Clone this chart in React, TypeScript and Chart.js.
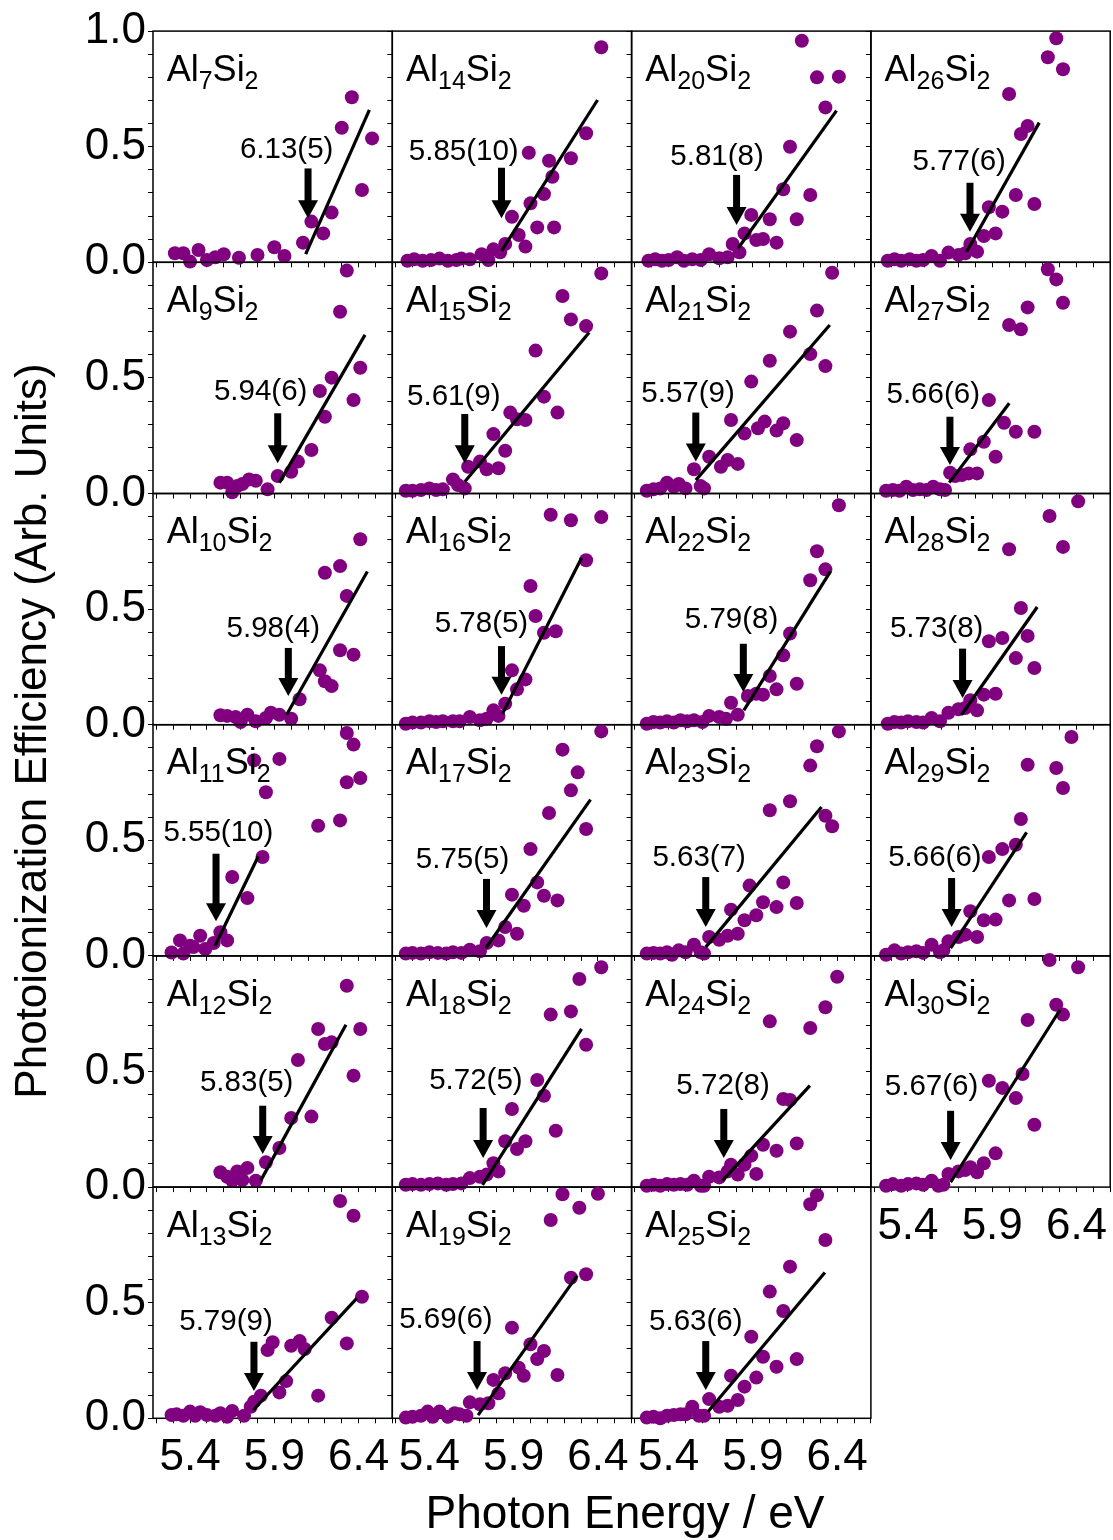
import React, { useEffect, useRef } from 'react';
import { Chart, registerables } from 'chart.js';

Chart.register(...registerables);

const FONT = "'Liberation Sans', Arial, Helvetica, sans-serif";
const PURPLE = '#800080';

// ---------- axes ----------
const X_MIN = 5.18;
const X_MAX = 6.6;
const Y_MIN = 0;
const Y_MAX = 1.0;
const xTicks = [5.2, 5.3, 5.4, 5.5, 5.6, 5.7, 5.8, 5.9, 6.0, 6.1, 6.2, 6.3, 6.4, 6.5, 6.6];
const yTicks = [0, 0.1, 0.2, 0.3, 0.4, 0.5, 0.6, 0.7, 0.8, 0.9, 1.0];
const xTickLabels = [5.4, 5.9, 6.4];
const yTickLabels = [0, 0.5, 1.0];

// ---------- panels (row-major, 4 columns) ----------
const clusterN = [7, 14, 20, 26, 9, 15, 21, 27, 10, 16, 22, 28, 11, 17, 23, 29, 12, 18, 24, 30, 13, 19, 25];
const thresholdText = ['6.13(5)', '5.85(10)', '5.81(8)', '5.77(6)', '5.94(6)', '5.61(9)', '5.57(9)', '5.66(6)', '5.98(4)', '5.78(5)', '5.79(8)', '5.73(8)', '5.55(10)', '5.75(5)', '5.63(7)', '5.66(6)', '5.83(5)', '5.72(5)', '5.72(8)', '5.67(6)', '5.79(9)', '5.69(6)', '5.63(6)'];
const arrowE = [6.10, 5.828, 5.803, 5.768, 5.92, 5.61, 5.561, 5.649, 5.983, 5.828, 5.843, 5.724, 5.554, 5.739, 5.62, 5.659, 5.831, 5.719, 5.727, 5.653, 5.779, 5.683, 5.62];
const arrowTop = [0.406, 0.409, 0.378, 0.344, 0.347, 0.344, 0.35, 0.332, 0.332, 0.34, 0.35, 0.329, 0.442, 0.333, 0.341, 0.337, 0.352, 0.342, 0.338, 0.33, 0.331, 0.334, 0.334];
const arrowTip = [0.19, 0.19, 0.161, 0.132, 0.131, 0.131, 0.138, 0.123, 0.124, 0.13, 0.141, 0.115, 0.15, 0.121, 0.125, 0.125, 0.143, 0.126, 0.126, 0.117, 0.118, 0.122, 0.122];
const labelE = [5.973, 5.604, 5.687, 5.704, 5.819, 5.545, 5.515, 5.55, 5.894, 5.709, 5.773, 5.57, 5.568, 5.597, 5.581, 5.56, 5.736, 5.676, 5.723, 5.54, 5.613, 5.498, 5.561];
const labelY = [0.486, 0.478, 0.457, 0.435, 0.44, 0.419, 0.433, 0.426, 0.413, 0.437, 0.452, 0.415, 0.532, 0.416, 0.423, 0.423, 0.453, 0.46, 0.439, 0.432, 0.418, 0.425, 0.418];
const fitStartE = [6.086, 5.828, 5.812, 5.748, 5.93, 5.61, 5.561, 5.645, 5.973, 5.834, 5.846, 5.718, 5.548, 5.735, 5.62, 5.653, 5.819, 5.715, 5.719, 5.653, 5.775, 5.689, 5.634];
const fitStartY = [0.035, 0.049, 0.061, 0.046, 0.047, 0.051, 0.058, 0.047, 0.043, 0.048, 0.062, 0.043, 0.044, 0.034, 0.038, 0.034, 0.028, 0.01, 0.028, 0.021, 0.036, 0.014, 0.029];
const fitEndE = [6.464, 6.398, 6.396, 6.179, 6.438, 6.348, 6.356, 6.001, 6.452, 6.303, 6.36, 6.167, 5.805, 6.356, 6.307, 6.104, 6.325, 6.303, 6.238, 6.302, 6.389, 6.277, 6.327];
const fitEndY = [0.659, 0.702, 0.656, 0.604, 0.686, 0.696, 0.729, 0.39, 0.663, 0.721, 0.663, 0.509, 0.431, 0.676, 0.644, 0.534, 0.702, 0.684, 0.439, 0.766, 0.519, 0.617, 0.631];

// ---------- measured points: photon energy (eV) and efficiency ----------
const eAl7 = [5.31, 5.36, 5.40, 5.45, 5.50, 5.55, 5.60, 5.69, 5.80, 5.90, 5.96, 6.07, 6.12, 6.19, 6.24, 6.30, 6.36, 6.42, 6.48];
const yAl7 = [0.039, 0.039, 0.003, 0.053, 0.010, 0.022, 0.035, 0.020, 0.032, 0.065, 0.027, 0.085, 0.176, 0.125, 0.215, 0.582, 0.714, 0.313, 0.536];
const eAl14 = [5.27, 5.31, 5.36, 5.41, 5.46, 5.51, 5.56, 5.59, 5.64, 5.71, 5.75, 5.78, 5.82, 5.85, 5.89, 5.93, 5.97, 5.99, 6.00, 6.04, 6.08, 6.11, 6.13, 6.14, 6.24, 6.33, 6.42];
const yAl14 = [0.007, 0.013, 0.007, 0.010, 0.016, 0.007, 0.010, 0.016, 0.013, 0.035, 0.010, 0.056, 0.043, 0.079, 0.197, 0.118, 0.068, 0.474, 0.255, 0.151, 0.295, 0.439, 0.370, 0.151, 0.450, 0.558, 0.930];
const eAl20 = [5.28, 5.32, 5.36, 5.40, 5.45, 5.49, 5.54, 5.59, 5.64, 5.70, 5.75, 5.78, 5.82, 5.85, 5.89, 5.92, 5.96, 6.00, 6.04, 6.08, 6.12, 6.16, 6.19, 6.24, 6.28, 6.33, 6.41];
const yAl20 = [0.007, 0.013, 0.007, 0.010, 0.022, 0.007, 0.013, 0.010, 0.035, 0.017, 0.022, 0.079, 0.043, 0.125, 0.205, 0.096, 0.101, 0.186, 0.085, 0.316, 0.500, 0.186, 0.958, 0.291, 0.800, 0.670, 0.803];
const eAl26 = [5.28, 5.32, 5.36, 5.41, 5.45, 5.49, 5.54, 5.59, 5.64, 5.70, 5.74, 5.77, 5.81, 5.85, 5.88, 5.92, 5.96, 6.00, 6.04, 6.07, 6.11, 6.15, 6.23, 6.28, 6.32];
const yAl26 = [0.007, 0.013, 0.007, 0.013, 0.007, 0.010, 0.027, 0.007, 0.042, 0.032, 0.039, 0.079, 0.046, 0.114, 0.238, 0.125, 0.219, 0.728, 0.291, 0.555, 0.590, 0.252, 0.887, 0.969, 0.835];
const eAl9 = [5.58, 5.62, 5.65, 5.68, 5.71, 5.75, 5.79, 5.86, 5.92, 6.00, 6.04, 6.12, 6.20, 6.17, 6.24, 6.29, 6.33, 6.37, 6.41];
const yAl9 = [0.047, 0.047, 0.005, 0.032, 0.041, 0.061, 0.055, 0.018, 0.076, 0.094, 0.138, 0.188, 0.332, 0.443, 0.501, 0.786, 0.964, 0.404, 0.544];
const eAl15 = [5.26, 5.30, 5.35, 5.40, 5.44, 5.48, 5.54, 5.57, 5.61, 5.63, 5.70, 5.74, 5.78, 5.81, 5.85, 5.88, 5.92, 5.97, 6.03, 6.08, 6.16, 6.19, 6.24, 6.33, 6.42];
const yAl15 = [0.012, 0.012, 0.015, 0.022, 0.015, 0.018, 0.061, 0.037, 0.022, 0.116, 0.138, 0.105, 0.257, 0.109, 0.185, 0.350, 0.321, 0.318, 0.618, 0.419, 0.350, 0.854, 0.753, 0.724, 0.952];
const eAl21 = [5.27, 5.31, 5.35, 5.39, 5.43, 5.46, 5.50, 5.55, 5.59, 5.61, 5.64, 5.71, 5.75, 5.81, 5.77, 5.85, 5.89, 5.93, 5.97, 6.00, 6.04, 6.08, 6.12, 6.16, 6.24, 6.28, 6.33, 6.37];
const yAl21 = [0.012, 0.018, 0.022, 0.047, 0.029, 0.041, 0.022, 0.105, 0.032, 0.022, 0.159, 0.116, 0.145, 0.128, 0.318, 0.260, 0.484, 0.282, 0.311, 0.574, 0.272, 0.304, 0.700, 0.231, 0.603, 0.791, 0.551, 0.955];
const eAl27 = [5.27, 5.31, 5.35, 5.39, 5.43, 5.47, 5.51, 5.55, 5.59, 5.62, 5.65, 5.68, 5.72, 5.76, 5.81, 5.77, 5.85, 5.88, 5.92, 5.97, 6.00, 6.04, 6.07, 6.11, 6.15, 6.23, 6.28, 6.32];
const yAl27 = [0.012, 0.015, 0.012, 0.029, 0.015, 0.018, 0.015, 0.029, 0.018, 0.015, 0.090, 0.076, 0.080, 0.087, 0.087, 0.191, 0.224, 0.404, 0.159, 0.306, 0.729, 0.267, 0.710, 0.805, 0.267, 0.970, 0.926, 0.825];
const eAl10 = [5.58, 5.62, 5.67, 5.70, 5.74, 5.79, 5.85, 5.88, 5.93, 6.00, 6.05, 6.17, 6.20, 6.24, 6.20, 6.29, 6.29, 6.33, 6.37, 6.41];
const yAl10 = [0.041, 0.038, 0.033, 0.012, 0.043, 0.015, 0.029, 0.052, 0.043, 0.026, 0.110, 0.235, 0.188, 0.167, 0.657, 0.686, 0.322, 0.557, 0.303, 0.802];
const eAl16 = [5.26, 5.30, 5.35, 5.40, 5.44, 5.48, 5.54, 5.58, 5.64, 5.70, 5.74, 5.78, 5.81, 5.85, 5.89, 5.92, 5.97, 6.00, 6.03, 6.08, 6.12, 6.15, 6.24, 6.33, 6.42];
const yAl16 = [0.004, 0.009, 0.009, 0.015, 0.012, 0.015, 0.015, 0.015, 0.033, 0.019, 0.026, 0.062, 0.038, 0.091, 0.235, 0.153, 0.196, 0.600, 0.470, 0.398, 0.908, 0.404, 0.884, 0.711, 0.898];
const eAl22 = [5.27, 5.31, 5.35, 5.39, 5.43, 5.47, 5.51, 5.55, 5.60, 5.64, 5.70, 5.74, 5.77, 5.81, 5.87, 5.92, 5.96, 6.00, 6.04, 6.08, 6.12, 6.16, 6.24, 6.28, 6.33, 6.41];
const yAl22 = [0.004, 0.012, 0.009, 0.015, 0.009, 0.019, 0.015, 0.019, 0.012, 0.038, 0.033, 0.026, 0.095, 0.043, 0.124, 0.134, 0.130, 0.211, 0.153, 0.300, 0.394, 0.177, 0.625, 0.750, 0.672, 0.949];
const eAl28 = [5.28, 5.32, 5.36, 5.40, 5.45, 5.49, 5.54, 5.59, 5.64, 5.70, 5.74, 5.77, 5.81, 5.85, 5.88, 5.92, 5.96, 6.00, 6.04, 6.07, 6.11, 6.15, 6.24, 6.32, 6.41];
const yAl28 = [0.004, 0.012, 0.009, 0.015, 0.012, 0.009, 0.029, 0.015, 0.052, 0.067, 0.072, 0.106, 0.062, 0.130, 0.361, 0.134, 0.375, 0.759, 0.288, 0.505, 0.384, 0.245, 0.903, 0.769, 0.966];
const eAl11 = [5.29, 5.34, 5.36, 5.40, 5.42, 5.46, 5.49, 5.54, 5.58, 5.62, 5.65, 5.74, 5.78, 5.83, 5.85, 5.93, 6.16, 6.29, 6.33, 6.33, 6.37, 6.41];
const yAl11 = [0.015, 0.067, 0.010, 0.044, 0.038, 0.087, 0.030, 0.056, 0.102, 0.067, 0.341, 0.250, 0.846, 0.428, 0.708, 0.852, 0.563, 0.586, 0.964, 0.751, 0.914, 0.769];
const eAl17 = [5.26, 5.30, 5.35, 5.40, 5.45, 5.50, 5.54, 5.59, 5.64, 5.70, 5.74, 5.81, 5.85, 5.89, 5.92, 5.96, 6.00, 6.04, 6.08, 6.11, 6.16, 6.19, 6.24, 6.28, 6.33, 6.42];
const yAl17 = [0.010, 0.013, 0.010, 0.016, 0.013, 0.010, 0.016, 0.013, 0.027, 0.020, 0.056, 0.067, 0.125, 0.265, 0.096, 0.217, 0.462, 0.318, 0.260, 0.618, 0.240, 0.892, 0.716, 0.794, 0.549, 0.971];
const eAl23 = [5.27, 5.31, 5.35, 5.39, 5.42, 5.46, 5.50, 5.55, 5.59, 5.61, 5.64, 5.70, 5.75, 5.77, 5.81, 5.85, 5.88, 5.92, 5.96, 6.00, 6.04, 6.08, 6.12, 6.16, 6.24, 6.28, 6.33, 6.37, 6.41];
const yAl23 = [0.010, 0.013, 0.010, 0.016, 0.005, 0.024, 0.016, 0.048, 0.016, 0.010, 0.082, 0.070, 0.087, 0.200, 0.096, 0.154, 0.304, 0.176, 0.232, 0.630, 0.211, 0.318, 0.669, 0.229, 0.823, 0.907, 0.606, 0.561, 0.971];
const eAl29 = [5.27, 5.32, 5.36, 5.40, 5.45, 5.49, 5.54, 5.59, 5.61, 5.64, 5.70, 5.74, 5.77, 5.81, 5.85, 5.88, 5.92, 5.96, 6.00, 6.04, 6.07, 6.11, 6.15, 6.28, 6.32, 6.37];
const yAl29 = [0.005, 0.024, 0.010, 0.016, 0.020, 0.013, 0.048, 0.016, 0.024, 0.063, 0.082, 0.092, 0.193, 0.082, 0.154, 0.428, 0.157, 0.462, 0.240, 0.481, 0.592, 0.827, 0.246, 0.813, 0.726, 0.947];
const eAl12 = [5.58, 5.62, 5.65, 5.68, 5.71, 5.74, 5.79, 5.85, 5.93, 6.00, 6.04, 6.12, 6.16, 6.20, 6.24, 6.33, 6.37, 6.41];
const yAl12 = [0.064, 0.045, 0.028, 0.068, 0.031, 0.083, 0.028, 0.107, 0.169, 0.299, 0.550, 0.305, 0.684, 0.619, 0.626, 0.871, 0.482, 0.684];
const eAl18 = [5.26, 5.30, 5.35, 5.40, 5.45, 5.50, 5.54, 5.59, 5.64, 5.70, 5.74, 5.78, 5.81, 5.85, 5.89, 5.92, 5.97, 6.04, 6.08, 6.12, 6.15, 6.24, 6.29, 6.33, 6.42];
const yAl18 = [0.010, 0.013, 0.010, 0.013, 0.016, 0.010, 0.013, 0.016, 0.039, 0.045, 0.054, 0.103, 0.068, 0.198, 0.338, 0.165, 0.198, 0.463, 0.395, 0.746, 0.244, 0.760, 0.900, 0.616, 0.951];
const eAl24 = [5.27, 5.31, 5.35, 5.39, 5.43, 5.47, 5.51, 5.55, 5.59, 5.61, 5.64, 5.70, 5.75, 5.77, 5.81, 5.85, 5.89, 5.92, 5.96, 6.00, 6.04, 6.08, 6.12, 6.16, 6.24, 6.33, 6.40];
const yAl24 = [0.006, 0.010, 0.006, 0.013, 0.010, 0.013, 0.010, 0.028, 0.006, 0.006, 0.045, 0.042, 0.068, 0.097, 0.054, 0.097, 0.136, 0.057, 0.183, 0.717, 0.157, 0.381, 0.377, 0.189, 0.688, 0.778, 0.910];
const eAl30 = [5.27, 5.31, 5.36, 5.40, 5.45, 5.49, 5.54, 5.58, 5.61, 5.64, 5.70, 5.74, 5.77, 5.81, 5.85, 5.88, 5.92, 5.96, 6.04, 6.08, 6.11, 6.15, 6.24, 6.28, 6.32, 6.41];
const yAl30 = [0.006, 0.013, 0.006, 0.013, 0.016, 0.010, 0.028, 0.006, 0.010, 0.057, 0.068, 0.074, 0.086, 0.064, 0.103, 0.460, 0.146, 0.429, 0.385, 0.489, 0.723, 0.270, 0.982, 0.789, 0.746, 0.951];
const eAl13 = [5.29, 5.32, 5.36, 5.40, 5.43, 5.46, 5.50, 5.55, 5.58, 5.62, 5.65, 5.72, 5.76, 5.78, 5.82, 5.86, 5.89, 5.93, 5.97, 6.00, 6.05, 6.08, 6.16, 6.24, 6.29, 6.33, 6.37, 6.42];
const yAl13 = [0.014, 0.017, 0.011, 0.029, 0.011, 0.026, 0.014, 0.011, 0.022, 0.007, 0.032, 0.011, 0.050, 0.072, 0.098, 0.295, 0.329, 0.112, 0.161, 0.314, 0.334, 0.300, 0.098, 0.435, 0.940, 0.324, 0.876, 0.526];
const eAl19 = [5.26, 5.30, 5.35, 5.39, 5.42, 5.46, 5.51, 5.55, 5.58, 5.62, 5.64, 5.70, 5.75, 5.78, 5.81, 5.85, 5.89, 5.93, 5.96, 6.00, 6.04, 6.08, 6.12, 6.16, 6.19, 6.24, 6.29, 6.33, 6.40];
const yAl19 = [0.003, 0.007, 0.011, 0.029, 0.007, 0.029, 0.007, 0.022, 0.017, 0.011, 0.069, 0.061, 0.065, 0.166, 0.108, 0.195, 0.392, 0.219, 0.184, 0.320, 0.256, 0.291, 0.858, 0.187, 0.969, 0.608, 0.911, 0.623, 0.971];
const eAl25 = [5.27, 5.31, 5.35, 5.39, 5.43, 5.47, 5.50, 5.54, 5.58, 5.61, 5.64, 5.70, 5.75, 5.77, 5.81, 5.85, 5.89, 5.92, 5.96, 6.00, 6.04, 6.08, 6.12, 6.16, 6.24, 6.28, 6.33];
const yAl25 = [0.003, 0.007, 0.000, 0.011, 0.014, 0.017, 0.017, 0.050, 0.011, 0.011, 0.083, 0.050, 0.054, 0.184, 0.079, 0.137, 0.353, 0.176, 0.266, 0.548, 0.223, 0.464, 0.656, 0.256, 0.926, 0.965, 0.771];

const energies = [eAl7, eAl14, eAl20, eAl26, eAl9, eAl15, eAl21, eAl27, eAl10, eAl16, eAl22, eAl28, eAl11, eAl17, eAl23, eAl29, eAl12, eAl18, eAl24, eAl30, eAl13, eAl19, eAl25];
const efficiencies = [yAl7, yAl14, yAl20, yAl26, yAl9, yAl15, yAl21, yAl27, yAl10, yAl16, yAl22, yAl28, yAl11, yAl17, yAl23, yAl29, yAl12, yAl18, yAl24, yAl30, yAl13, yAl19, yAl25];

// ---------- layout ----------
const COLS = 4;
const PANEL_LEFT = 153;
const PANEL_TOP = 31.1;
const PANEL_W = 239.3;
const PANEL_H = 231.2;
const ML = 100;
const MT = 30;
const MR = 20;
const MB = 70;

const near = (v: number, list: number[]) => list.some((t) => Math.abs(t - v) < 1e-6);

function Panel({ i }: { i: number }) {
  const ref = useRef<HTMLCanvasElement | null>(null);
  const r = Math.floor(i / COLS);
  const c = i % COLS;
  const pl = PANEL_LEFT + c * PANEL_W;
  const pt = PANEL_TOP + r * PANEL_H;
  const cl = Math.floor(pl) - ML;
  const ct = Math.floor(pt) - MT;
  const cw = ML + Math.ceil(PANEL_W) + MR;
  const ch = MT + Math.ceil(PANEL_H) + MB;
  const showX = r === 5 || (r === 4 && c === 3);
  const showY = c === 0;

  useEffect(() => {
    const canvas = ref.current;
    if (!canvas) return;
    const axisW = pl - cl;
    const padTop = pt - ct;
    const padRight = cw - axisW - PANEL_W;
    const axisH = ch - padTop - PANEL_H;

    const panelPlugin = {
      id: 'panelDeco',
      beforeDatasetsDraw(chart: any) {
        const { ctx, chartArea: a } = chart;
        ctx.save();
        ctx.strokeStyle = '#000';
        ctx.lineWidth = 1.5;
        ctx.strokeRect(a.left, a.top, a.right - a.left, a.bottom - a.top);
        ctx.restore();
      },
      afterDatasetsDraw(chart: any) {
        const { ctx, chartArea: a } = chart;
        const xs = chart.scales.x;
        const ys = chart.scales.y;
        ctx.save();
        ctx.fillStyle = '#000';
        // formula label Al_n Si_2
        ctx.textAlign = 'left';
        ctx.textBaseline = 'alphabetic';
        let x = a.left + 13.7;
        const base = a.top + 49.6;
        const big = `36px ${FONT}`;
        const small = `25px ${FONT}`;
        ctx.font = big;
        ctx.fillText('Al', x, base);
        x += ctx.measureText('Al').width;
        ctx.font = small;
        ctx.fillText(String(clusterN[i]), x, base + 8);
        x += ctx.measureText(String(clusterN[i])).width;
        ctx.font = big;
        ctx.fillText('Si', x, base);
        x += ctx.measureText('Si').width;
        ctx.font = small;
        ctx.fillText('2', x, base + 8);
        // threshold label
        ctx.font = `29.5px ${FONT}`;
        ctx.textAlign = 'center';
        ctx.textBaseline = 'middle';
        ctx.fillText(thresholdText[i], xs.getPixelForValue(labelE[i]), ys.getPixelForValue(labelY[i]));
        // arrow
        const ax = xs.getPixelForValue(arrowE[i]);
        const y0 = ys.getPixelForValue(arrowTop[i]);
        const y1 = ys.getPixelForValue(arrowTip[i]);
        const headH = 18;
        const headW = 20;
        const shaftW = 7;
        ctx.fillRect(ax - shaftW / 2, y0, shaftW, y1 - headH - y0 + 1);
        ctx.beginPath();
        ctx.moveTo(ax - headW / 2, y1 - headH);
        ctx.lineTo(ax + headW / 2, y1 - headH);
        ctx.lineTo(ax, y1);
        ctx.closePath();
        ctx.fill();
        ctx.restore();
      },
    };

    const chart = new Chart(canvas, {
      type: 'scatter',
      data: {
        datasets: [
          {
            data: [
              { x: fitStartE[i], y: fitStartY[i] },
              { x: fitEndE[i], y: fitEndY[i] },
            ],
            showLine: true,
            borderColor: '#000',
            borderWidth: 3.2,
            pointRadius: 0,
            clip: false as any,
          },
          {
            data: energies[i].map((e, k) => ({ x: e, y: efficiencies[i][k] })),
            pointRadius: 7,
            backgroundColor: PURPLE,
            borderWidth: 0,
            clip: false as any,
          },
        ],
      },
      options: {
        responsive: false,
        animation: false,
        events: [],
        layout: { padding: { left: 0, top: padTop, right: padRight, bottom: 0 } },
        plugins: { legend: { display: false }, tooltip: { enabled: false } },
        scales: {
          x: {
            type: 'linear',
            min: X_MIN,
            max: X_MAX,
            afterBuildTicks: (s: any) => {
              s.ticks = xTicks.map((value) => ({ value }));
            },
            afterFit: (s: any) => {
              s.height = axisH;
            },
            ticks: {
              display: showX,
              autoSkip: false,
              maxRotation: 0,
              minRotation: 0,
              padding: 8,
              color: '#000',
              font: { family: FONT, size: 44 },
              callback: (v: any) => (near(Number(v), xTickLabels) ? Number(v).toFixed(1) : ''),
            },
            grid: { display: true, drawOnChartArea: false, drawTicks: true, tickLength: 5, tickColor: '#000', tickWidth: 1 },
            border: { display: false },
          },
          y: {
            type: 'linear',
            min: Y_MIN,
            max: Y_MAX,
            afterBuildTicks: (s: any) => {
              s.ticks = yTicks.map((value) => ({ value }));
            },
            afterFit: (s: any) => {
              s.width = axisW;
            },
            ticks: {
              display: showY,
              autoSkip: false,
              padding: 2,
              color: '#000',
              font: { family: FONT, size: 44 },
              callback: (v: any) => {
                const n = Number(v);
                if (!near(n, yTickLabels)) return '';
                if (r > 0 && Math.abs(n - 1) < 1e-6) return '';
                return n.toFixed(1);
              },
            },
            grid: { display: true, drawOnChartArea: false, drawTicks: true, tickLength: 5, tickColor: '#000', tickWidth: 1 },
            border: { display: false },
          },
        },
      } as any,
      plugins: [panelPlugin],
    });
    return () => chart.destroy();
  }, []);

  return (
    <canvas
      ref={ref}
      width={cw}
      height={ch}
      style={{ position: 'absolute', left: cl, top: ct, width: cw, height: ch }}
    />
  );
}

export default function App() {
  return (
    <div style={{ position: 'absolute', left: 0, top: 0, width: 1113, height: 1540, background: '#fff', overflow: 'hidden' }}>
      {clusterN.map((_, i) => (
        <Panel key={i} i={i} />
      ))}
      <div
        style={{
          position: 'absolute',
          left: 31 - 420,
          top: 731 - 26,
          width: 840,
          height: 52,
          lineHeight: '52px',
          fontSize: 44,
          fontFamily: FONT,
          textAlign: 'center',
          whiteSpace: 'nowrap',
          color: '#000',
          transform: 'rotate(-90deg)',
        }}
      >
        Photoionization Efficiency (Arb. Units)
      </div>
      <div
        style={{
          position: 'absolute',
          left: 625 - 400,
          top: 1486,
          width: 800,
          height: 52,
          lineHeight: '52px',
          fontSize: 46,
          fontFamily: FONT,
          textAlign: 'center',
          whiteSpace: 'nowrap',
          color: '#000',
        }}
      >
        Photon Energy / eV
      </div>
    </div>
  );
}
